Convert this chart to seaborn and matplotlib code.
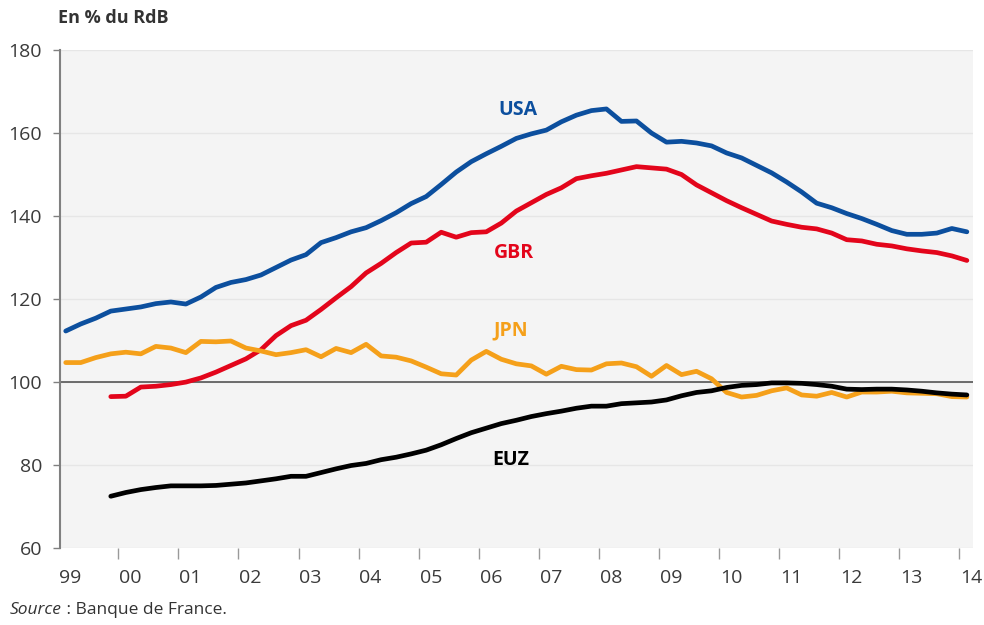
import matplotlib
matplotlib.use("Agg")
import matplotlib.pyplot as plt
import pandas as pd
import seaborn as sns

# quarterly household debt, % of gross disposable income
quarters = pd.period_range("1999Q1", "2014Q1", freq="Q")

usa = [112.3, 114.0, 115.4, 117.1, 117.6, 118.1, 118.9, 119.3, 118.8, 120.5,
       122.8, 124.0, 124.7, 125.8, 127.6, 129.4, 130.7, 133.6, 134.8, 136.2,
       137.2, 138.9, 140.8, 143.0, 144.7, 147.6, 150.6, 153.1, 155.0, 156.8,
       158.7, 159.8, 160.7, 162.7, 164.3, 165.4, 165.8, 162.8, 162.9, 160.0,
       157.8, 158.0, 157.6, 156.9, 155.2, 154.0, 152.2, 150.4, 148.2, 145.8,
       143.1, 142.0, 140.6, 139.4, 138.0, 136.5, 135.6, 135.6, 135.9, 137.0,
       136.2]
jpn = [104.7, 104.7, 105.9, 106.8, 107.2, 106.8, 108.6, 108.2, 107.1, 109.8,
       109.7, 109.9, 108.2, 107.5, 106.6, 107.1, 107.8, 106.1, 108.1, 107.1,
       109.1, 106.3, 106.0, 105.1, 103.6, 102.0, 101.7, 105.3, 107.4, 105.5,
       104.4, 103.9, 101.9, 103.8, 103.0, 102.9, 104.4, 104.6, 103.7, 101.4,
       104.0, 101.8, 102.6, 100.8, 97.5, 96.4, 96.8, 97.9, 98.6, 96.9,
       96.6, 97.5, 96.4, 97.6, 97.6, 97.8, 97.4, 97.3, 97.2, 96.5,
       96.4]
# GBR and EUZ start in 1999Q4
gbr = [96.5, 96.6, 98.8, 99.0, 99.4, 100.0, 101.0, 102.4, 104.0, 105.6,
       107.8, 111.2, 113.6, 114.9, 117.5, 120.3, 123.0, 126.3, 128.6, 131.2,
       133.5, 133.7, 136.1, 134.9, 136.0, 136.2, 138.3, 141.2, 143.2, 145.2,
       146.8, 149.0, 149.7, 150.3, 151.1, 151.9, 151.6, 151.3, 150.0, 147.5,
       145.6, 143.7, 142.0, 140.4, 138.8, 138.0, 137.3, 136.9, 135.9, 134.3,
       134.0, 133.2, 132.8, 132.1, 131.6, 131.2, 130.4, 129.3]
euz = [72.5, 73.4, 74.1, 74.6, 75.0, 75.0, 75.0, 75.1, 75.4, 75.7,
       76.2, 76.7, 77.3, 77.3, 78.2, 79.1, 79.9, 80.4, 81.3, 81.9,
       82.7, 83.6, 84.9, 86.4, 87.8, 88.9, 90.0, 90.8, 91.7, 92.4,
       93.0, 93.7, 94.2, 94.2, 94.8, 95.0, 95.2, 95.7, 96.7, 97.5,
       97.9, 98.7, 99.2, 99.4, 99.8, 99.8, 99.7, 99.4, 99.0, 98.3,
       98.2, 98.3, 98.3, 98.1, 97.8, 97.4, 97.1, 96.9]

year_labels = ["99", "00", "01", "02", "03", "04", "05", "06", "07",
               "08", "09", "10", "11", "12", "13", "14"]

palette = {"USA": "#0c4f9e", "GBR": "#e3051b", "JPN": "#f5a01a", "EUZ": "#000000"}
label_pos = {"USA": (2006.66, 165.5), "GBR": (2006.58, 131.1),
             "JPN": (2006.53, 112.5), "EUZ": (2006.53, 81.2)}

frames = []
for name, values in [("USA", usa), ("GBR", gbr), ("JPN", jpn), ("EUZ", euz)]:
    q = quarters[-len(values):]
    frames.append(pd.DataFrame({
        "t": q.year + (q.quarter - 0.5) / 4,
        "value": values,
        "country": name,
    }))
df = pd.concat(frames, ignore_index=True)

sns.set_theme(style="white")
plt.rcParams["font.family"] = ["Open Sans", "DejaVu Sans"]

fig = plt.figure(figsize=(9.84, 6.25), dpi=100)
ax = fig.add_axes([0.061, 0.123, 0.928, 0.797])
ax.set_facecolor("#f4f4f4")

ax.axhline(100, color="#555555", lw=1.2, zorder=1.5)
sns.lineplot(data=df, x="t", y="value", hue="country", palette=palette,
             linewidth=3.4, estimator=None, legend=False, ax=ax, zorder=2)

for name, (x, y) in label_pos.items():
    ax.text(x, y, name, color=palette[name], fontsize=14, fontweight="bold",
            ha="center", va="center")

ax.set_xlim(1999.03, 2014.23)
ax.set_ylim(60, 180)
ax.set_xlabel("")
ax.set_ylabel("")

ax.set_yticks(range(60, 181, 20))
ax.grid(axis="y", color="#e6e6e6", lw=1)
ax.set_axisbelow(True)
ax.tick_params(axis="y", length=5, width=1, color="#808080", pad=8,
               labelsize=14, labelcolor="#3a3a3a", left=True)

first = int(quarters[0].year)
ax.set_xticks(range(first + 1, first + len(year_labels)))
ax.set_xticklabels([])
ax.tick_params(axis="x", which="major", length=8, width=1, color="#9a9a9a",
               bottom=True)
ax.set_xticks([first + i + 0.2 for i in range(len(year_labels))], minor=True)
ax.set_xticklabels(year_labels, minor=True)
ax.tick_params(axis="x", which="minor", length=0, pad=15, labelsize=14,
               labelcolor="#3a3a3a")

for side in ["top", "right", "bottom"]:
    ax.spines[side].set_visible(False)
ax.spines["left"].set_color("#808080")
ax.spines["left"].set_linewidth(1.5)

fig.text(58 / 984, 1 - 18 / 625, "En % du RdB", fontsize=13,
         fontweight="bold", color="#333333", va="center")
src = fig.text(10 / 984, 1 - 610 / 625, "Source", fontsize=12.5,
               style="italic", color="#333333", va="center")
ax.annotate(" : Banque de France.", xy=(1, 0.5), xycoords=src,
            fontsize=12.5, color="#333333", va="center")

fig.savefig("out.png", dpi=100)
